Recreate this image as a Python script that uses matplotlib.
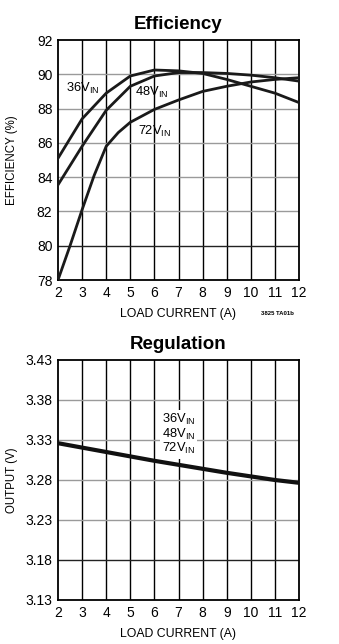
import matplotlib
matplotlib.use("Agg")
import matplotlib.pyplot as plt
from matplotlib import font_manager

names = {f.name for f in font_manager.fontManager.ttflist}
FONT = "Liberation Sans Narrow" if "Liberation Sans Narrow" in names else "Liberation Sans"
plt.rcParams['font.family'] = [FONT, 'DejaVu Sans']
plt.rcParams['mathtext.fontset'] = 'custom'
plt.rcParams['mathtext.rm'] = FONT
plt.rcParams['mathtext.it'] = FONT
plt.rcParams['mathtext.bf'] = FONT

# ---- Efficiency data ----
load_a = [2, 3, 4, 5, 6, 7, 8, 9, 10, 11, 12]
eff_36v = [85.1, 87.4, 88.9, 89.9, 90.25, 90.2, 90.05, 89.7, 89.3, 88.9, 88.35]
eff_48v = [83.55, 85.8, 87.9, 89.3, 89.9, 90.1, 90.1, 90.05, 89.95, 89.8, 89.6]
load_72 = [2, 2.5, 3, 3.5, 4, 4.5, 5, 6, 7, 8, 9, 10, 11, 12]
eff_72v = [78.0, 80.0, 82.1, 84.1, 85.8, 86.6, 87.2, 87.95, 88.5, 89.0, 89.3, 89.55, 89.7, 89.8]

# ---- Regulation data ----
reg_load = [2, 3, 4, 5, 6, 7, 8, 9, 10, 11, 12]
reg_out = [3.326, 3.3205, 3.315, 3.3095, 3.304, 3.299, 3.294, 3.289, 3.2845, 3.28, 3.2765]

eff_yticks = [78, 80, 82, 84, 86, 88, 90, 92]
reg_yticks = [3.13, 3.18, 3.23, 3.28, 3.33, 3.38, 3.43]
xticks = [2, 3, 4, 5, 6, 7, 8, 9, 10, 11, 12]

W, H = 339, 644
fig = plt.figure(figsize=(W / 100, H / 100), dpi=100)
fig.patch.set_facecolor('white')

ax1 = fig.add_axes([58 / W, 1 - 280 / H, 241 / W, 240 / H])
ax2 = fig.add_axes([58 / W, 1 - 600 / H, 241 / W, 240 / H])

def style(ax, yticks, ylabel, title, dark_rows):
    ax.set_xlim(2, 12)
    ax.set_ylim(yticks[0], yticks[-1])
    ax.set_xticks(xticks)
    ax.set_yticks(yticks)
    ax.set_yticklabels([f"{v:g}" if isinstance(v, int) else f"{v:.2f}" for v in yticks])
    for x in xticks[1:-1]:
        ax.axvline(x, color='black', lw=1.0, zorder=1)
    for y in yticks[1:-1]:
        c = '#222222' if y in dark_rows else '#9a9a9a'
        ax.axhline(y, color=c, lw=1.0, zorder=1)
    for s in ax.spines.values():
        s.set_linewidth(1.3)
        s.set_color('black')
    ax.tick_params(length=0, pad=4, labelsize=10)
    ax.set_xlabel("LOAD CURRENT (A)", fontsize=8.8, labelpad=6)
    ax.set_ylabel(ylabel, fontsize=8.3)
    ax.yaxis.set_label_coords(-40 / 241, 0.5)
    ax.set_title(title, fontsize=13.5, fontweight='bold', pad=8)

style(ax1, eff_yticks, "EFFICIENCY (%)", "Efficiency", [80])
ax1.plot(load_a, eff_36v, color='#1a1a1a', lw=2.0, zorder=3)
ax1.plot(load_a, eff_48v, color='#1a1a1a', lw=2.0, zorder=3)
ax1.plot(load_72, eff_72v, color='#1a1a1a', lw=2.0, zorder=3)
ax1.text(2.35, 89.15, r"36V$_{\mathrm{IN}}$", fontsize=9.3, va='center', zorder=4)
ax1.text(5.2, 88.95, r"48V$_{\mathrm{IN}}$", fontsize=9.3, va='center', zorder=4)
ax1.text(5.3, 86.65, r"72V$_{\mathrm{IN}}$", fontsize=9.3, va='center', zorder=4)
ax1.text(11.1, 76.05, "3825 TA01b", fontsize=4.3, fontweight='bold', ha='center', va='center')

style(ax2, reg_yticks, "OUTPUT (V)", "Regulation", [3.18])
ax2.plot(reg_load, reg_out, color='#111111', lw=3.0, zorder=3)
ax2.text(7.0, 3.337, "36V$_{\\mathrm{IN}}$\n48V$_{\\mathrm{IN}}$\n72V$_{\\mathrm{IN}}$",
         fontsize=9.3, ha='center', va='center', linespacing=0.95, zorder=4,
         bbox=dict(facecolor='white', edgecolor='none', pad=1.5))

fig.savefig("out.png", dpi=100, facecolor='white')
